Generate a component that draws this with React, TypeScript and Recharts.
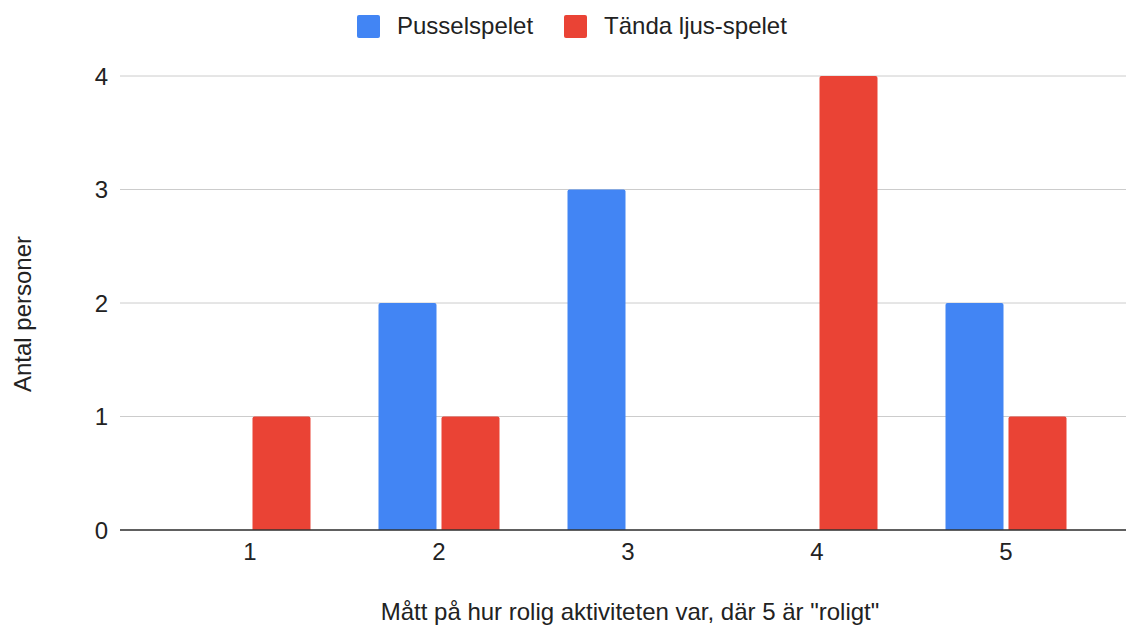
import { BarChart, Bar, XAxis, YAxis, CartesianGrid } from "recharts";

const categories = ["1", "2", "3", "4", "5"];
const pusselspelet = [0, 2, 3, 0, 2];
const tandaLjus = [1, 1, 0, 4, 1];
const yTicks = [0, 1, 2, 3, 4];

const seriesNames = ["Pusselspelet", "Tända ljus-spelet"];
const seriesColors = ["#4285F4", "#EA4335"];

const data = categories.map((c, i) => ({
  cat: c,
  a: pusselspelet[i],
  b: tandaLjus[i],
}));

const font = "Arial, 'Liberation Sans', sans-serif";
const textColor = "#222222";

export default function App() {
  return (
    <div style={{ position: "fixed", top: 0, left: 0, width: 1126, height: 626, background: "#fff", fontFamily: font }}>
      <div
        style={{
          position: "absolute",
          top: 12,
          left: 357,
          display: "flex",
          alignItems: "center",
          fontSize: 24,
          color: textColor,
          whiteSpace: "nowrap",
        }}
      >
        {seriesNames.map((n, i) => (
          <div key={n} style={{ display: "flex", alignItems: "center", marginRight: 31 }}>
            <div style={{ width: 23, height: 23, background: seriesColors[i], borderRadius: 2, marginRight: 17 }} />
            <span>{n}</span>
          </div>
        ))}
      </div>
      <BarChart
        width={1126}
        height={626}
        data={data}
        margin={{ top: 76, right: 0, bottom: 0, left: 0 }}
        barSize={58}
        barGap={5}
      >
        <CartesianGrid vertical={false} stroke="#cccccc" />
        <XAxis
          dataKey="cat"
          height={96}
          padding={{ left: 35.5, right: 25.5 }}
          tickLine={false}
          tickSize={0}
          tickMargin={13}
          axisLine={{ stroke: "#333333", strokeWidth: 1.5 }}
          tick={{ fill: textColor, fontSize: 24, fontFamily: font }}
          label={{
            value: 'Mått på hur rolig aktiviteten var, där 5 är "roligt"',
            position: "insideBottom",
            offset: 6,
            dx: 7,
            style: { fill: textColor, fontSize: 24, fontFamily: font },
          }}
        />
        <YAxis
          width={120}
          domain={[0, 4]}
          ticks={yTicks}
          tickLine={false}
          tickSize={0}
          tickMargin={12}
          axisLine={false}
          tick={{ fill: textColor, fontSize: 24, fontFamily: font }}
          label={{
            value: "Antal personer",
            angle: -90,
            position: "insideLeft",
            offset: 22,
            dy: 11,
            style: { textAnchor: "middle", fill: textColor, fontSize: 24, fontFamily: font },
          }}
        />
        <Bar dataKey="a" fill={seriesColors[0]} radius={[2, 2, 0, 0]} isAnimationActive={false} />
        <Bar dataKey="b" fill={seriesColors[1]} radius={[2, 2, 0, 0]} isAnimationActive={false} />
      </BarChart>
    </div>
  );
}
